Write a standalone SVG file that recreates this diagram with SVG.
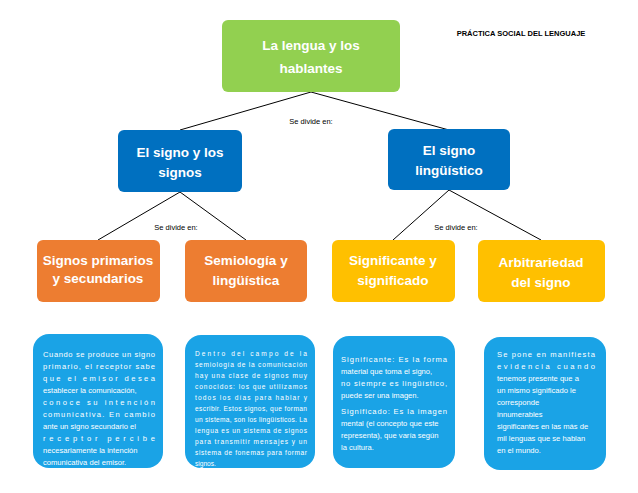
<svg xmlns="http://www.w3.org/2000/svg" width="638" height="493" viewBox="0 0 638 493">
<style>
text{font-family:"Liberation Sans",Arial,sans-serif}
.h{fill:#fff;font-size:13.5px;font-weight:bold;text-anchor:middle}
.s{fill:#fff;font-size:7.6px}
.l{fill:#000;font-size:7.5px;text-anchor:middle}
.c{stroke:#000;stroke-width:1;fill:none}
.blue{fill:#0070c0}.or{fill:#ed7d31}.ye{fill:#ffc000}.cy{fill:#1aa3e6}
</style>
<rect width="638" height="493" fill="#fff"/>
<g id="connectors">
<path class="c" d="M311 92 L180 130 M311 92 L449 130 M180 192 L98 240 M180 192 L246 240 M449 190 L393 240 M449 190 L541 240"/>
<text class="l" x="311" y="124">Se divide en:</text>
<text class="l" x="176" y="230">Se divide en:</text>
<text class="l" x="456" y="230">Se divide en:</text>
</g>
<g id="title"><text x="521" y="36" style="font-size:7.5px;font-weight:bold;text-anchor:middle">PRÁCTICA SOCIAL DEL LENGUAJE</text></g>
<g id="root"><rect x="222" y="20" width="178" height="72" rx="6" fill="#92d050"/>
<text class="h" x="311" y="50">La lengua y los</text><text class="h" x="311" y="73">hablantes</text></g>
<g id="n1"><rect class="blue" x="118" y="130" width="124" height="62" rx="6"/>
<text class="h" x="180" y="157">El signo y los</text><text class="h" x="180" y="177">signos</text></g>
<g id="n2"><rect class="blue" x="388" y="129" width="122" height="61" rx="6"/>
<text class="h" x="449" y="155">El signo</text><text class="h" x="449" y="175">lingüístico</text></g>
<g id="n3"><rect class="or" x="37" y="240" width="123" height="62" rx="6"/>
<text class="h" x="98" y="265">Signos primarios</text><text class="h" x="98" y="283">y secundarios</text></g>
<g id="n4"><rect class="or" x="185" y="240" width="122" height="62" rx="6"/>
<text class="h" x="246" y="265">Semiología y</text><text class="h" x="246" y="285">lingüística</text></g>
<g id="n5"><rect class="ye" x="332" y="240" width="123" height="62" rx="6"/>
<text class="h" x="393" y="265">Significante y</text><text class="h" x="393" y="285">significado</text></g>
<g id="n6"><rect class="ye" x="478" y="240" width="127" height="62" rx="6"/>
<text class="h" x="541" y="267">Arbitrariedad</text><text class="h" x="541" y="287">del signo</text></g>
<g id="d1"><rect class="cy" x="33" y="334" width="130" height="134" rx="16"/>
<text class="s" x="43" y="357">
<tspan x="43" textLength="112" lengthAdjust="spacing">Cuando se produce un signo</tspan>
<tspan x="43" dy="12" textLength="112" lengthAdjust="spacing">primario, el receptor sabe</tspan>
<tspan x="43" dy="12" textLength="112" lengthAdjust="spacing">que el emisor desea</tspan>
<tspan x="43" dy="12">establecer la comunicación,</tspan>
<tspan x="43" dy="12" textLength="112" lengthAdjust="spacing">conoce su intención</tspan>
<tspan x="43" dy="12" textLength="112" lengthAdjust="spacing">comunicativa. En cambio</tspan>
<tspan x="43" dy="12">ante un signo secundario el</tspan>
<tspan x="43" dy="12" textLength="112" lengthAdjust="spacing">receptor percibe</tspan>
<tspan x="43" dy="12">necesariamente la intención</tspan>
<tspan x="43" dy="12">comunicativa del emisor.</tspan></text></g>
<g id="d2"><rect class="cy" x="185" y="335" width="130" height="133" rx="16"/>
<text class="s" x="195" y="356" style="font-size:6.6px">
<tspan x="195" textLength="112" lengthAdjust="spacing">Dentro del campo de la</tspan>
<tspan x="195" dy="11" textLength="112" lengthAdjust="spacing">semiología de la comunicación</tspan>
<tspan x="195" dy="11" textLength="112" lengthAdjust="spacing">hay una clase de signos muy</tspan>
<tspan x="195" dy="11" textLength="112" lengthAdjust="spacing">conocidos: los que utilizamos</tspan>
<tspan x="195" dy="11" textLength="112" lengthAdjust="spacing">todos los días para hablar y</tspan>
<tspan x="195" dy="11" textLength="112" lengthAdjust="spacing">escribir. Estos signos, que forman</tspan>
<tspan x="195" dy="11" textLength="112" lengthAdjust="spacing">un sistema, son los lingüísticos. La</tspan>
<tspan x="195" dy="11" textLength="112" lengthAdjust="spacing">lengua es un sistema de signos</tspan>
<tspan x="195" dy="11" textLength="112" lengthAdjust="spacing">para transmitir mensajes y un</tspan>
<tspan x="195" dy="11" textLength="112" lengthAdjust="spacing">sistema de fonemas para formar</tspan>
<tspan x="195" dy="11">signos.</tspan></text></g>
<g id="d3"><rect class="cy" x="333" y="336" width="122" height="132" rx="16"/>
<text class="s" x="341" y="362">
<tspan x="341" textLength="106" lengthAdjust="spacing">Significante: Es la forma</tspan>
<tspan x="341" dy="12">material que toma el signo,</tspan>
<tspan x="341" dy="12" textLength="106" lengthAdjust="spacing">no siempre es lingüístico,</tspan>
<tspan x="341" dy="12">puede ser una imagen.</tspan>
<tspan x="341" dy="16" textLength="106" lengthAdjust="spacing">Significado: Es la imagen</tspan>
<tspan x="341" dy="12">mental (el concepto que este</tspan>
<tspan x="341" dy="12">representa), que varía según</tspan>
<tspan x="341" dy="12">la cultura.</tspan></text></g>
<g id="d4"><rect class="cy" x="484" y="337" width="122" height="133" rx="16"/>
<text class="s" x="497" y="357">
<tspan x="497" textLength="98" lengthAdjust="spacing">Se pone en manifiesta</tspan>
<tspan x="497" dy="12" textLength="98" lengthAdjust="spacing">evidencia cuando</tspan>
<tspan x="497" dy="12">tenemos presente que a</tspan>
<tspan x="497" dy="12">un mismo significado le</tspan>
<tspan x="497" dy="12">corresponde</tspan>
<tspan x="497" dy="12">innumerables</tspan>
<tspan x="497" dy="12">significantes en las más de</tspan>
<tspan x="497" dy="12">mil lenguas que se hablan</tspan>
<tspan x="497" dy="12">en el mundo.</tspan></text></g>
</svg>
